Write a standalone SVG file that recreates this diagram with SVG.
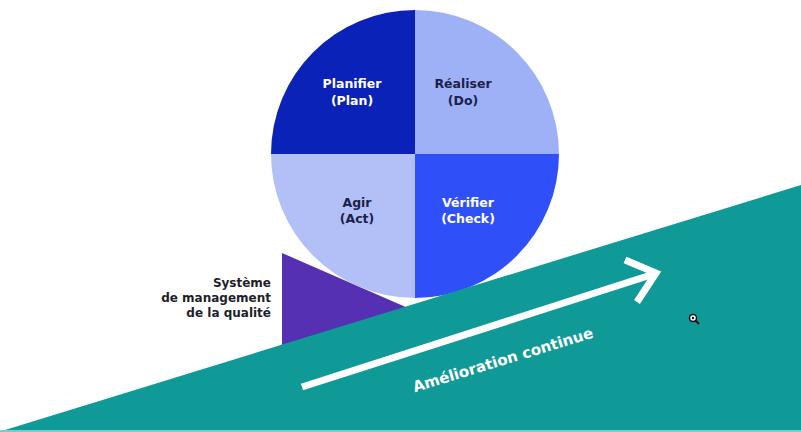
<svg xmlns="http://www.w3.org/2000/svg" width="801" height="432" viewBox="0 0 801 432">
<style>
.t{font-family:"DejaVu Sans","Liberation Sans",sans-serif;font-weight:700;font-size:12.5px;text-anchor:middle}
.w{fill:#ffffff}
.d{fill:#1b1f4a}
.l{font-family:"DejaVu Sans","Liberation Sans",sans-serif;font-weight:700;font-size:12px;text-anchor:end;fill:#1e1e2a}
</style>
<rect width="801" height="432" fill="#ffffff"/>
<g id="purple-triangle">
<polygon points="282,253 282,370 440,322" fill="#5530b2"/>
</g>
<g id="pdca-circle">
<path d="M415,154 L271,154 A144,144 0 0 1 415,10 Z" fill="#0a22b8"/>
<path d="M415,154 L415,10 A144,144 0 0 1 559,154 Z" fill="#9eb1f7"/>
<path d="M415,154 L559,154 A144,144 0 0 1 415,298 Z" fill="#2f4ff8"/>
<path d="M415,154 L415,298 A144,144 0 0 1 271,154 Z" fill="#b3c0f7"/>
</g>
<g id="plan">
<text class="t w" x="352" y="88">Planifier</text>
<text class="t w" x="352" y="105">(Plan)</text>
</g>
<g id="do">
<text class="t d" x="463" y="88">Réaliser</text>
<text class="t d" x="463" y="105">(Do)</text>
</g>
<g id="act">
<text class="t d" x="357" y="207">Agir</text>
<text class="t d" x="357" y="223">(Act)</text>
</g>
<g id="check">
<text class="t w" x="468" y="207">Vérifier</text>
<text class="t w" x="468" y="223">(Check)</text>
</g>
<g id="qms-label">
<text class="l" x="271" y="287">Système</text>
<text class="l" x="271" y="302">de management</text>
<text class="l" x="271" y="317">de la qualité</text>
</g>
<g id="slope">
<polygon points="5,430 801,185 801,432 0,432" fill="#109a97"/>
<rect x="0" y="430" width="801" height="2" fill="#6fd0cc"/>
</g>
<g id="connectors">
<line x1="302" y1="387" x2="654" y2="274" stroke="#ffffff" stroke-width="7" stroke-linecap="butt"/>
<polyline points="625,260 656,273 637,302" fill="none" stroke="#ffffff" stroke-width="7" stroke-linejoin="miter"/>
</g>
<g id="improvement-label">
<text x="503" y="365" transform="rotate(-17 503 360)" font-family="'DejaVu Sans','Liberation Sans',sans-serif" font-weight="700" font-size="15" fill="#ffffff" text-anchor="middle">Amélioration continue</text>
</g>
<g id="cursor">
<circle cx="693" cy="318" r="3.5" fill="#ffffff" stroke="#111111" stroke-width="1.5"/>
<circle cx="693" cy="318" r="1.2" fill="#111111"/>
<line x1="695.5" y1="320.5" x2="699" y2="324" stroke="#111111" stroke-width="2"/>
</g>
</svg>
